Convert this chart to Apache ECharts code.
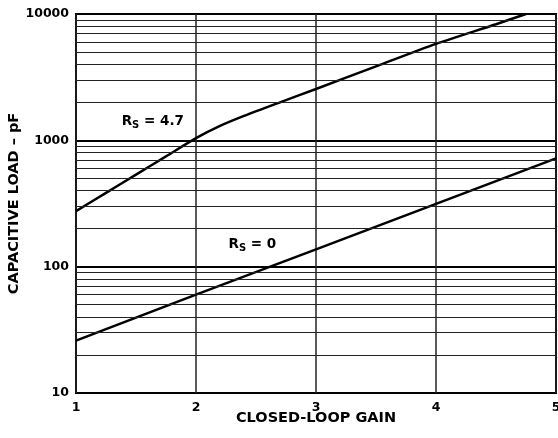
<!DOCTYPE html>
<html>
<head>
<meta charset="utf-8">
<script src="https://cdn.jsdelivr.net/npm/echarts@6/dist/echarts.min.js"></script>
<style>
  html, body { margin: 0; padding: 0; background: #fff; }
  #chart { width: 558px; height: 438px; }
</style>
</head>
<body>
<div id="chart"></div>
<script>
// 闭环增益 vs 容性负载
const gainTicks = [1, 2, 3, 4, 5];
const loadDecades = [10, 100, 1000, 10000];
// 次级网格线 (20..90, 200..900, 2000..9000)
const minorLoads = [20, 30, 40, 50, 60, 70, 80, 90,
  200, 300, 400, 500, 600, 700, 800, 900,
  2000, 3000, 4000, 5000, 6000, 7000, 8000, 9000];

const rs47Gain = [1, 1.25, 1.5, 1.75, 2, 2.2, 2.4, 2.7, 3, 3.5, 4, 4.5, 4.75];
const rs47Load = [275, 384, 535, 746, 1040, 1300, 1560, 2000, 2550, 3850, 5800, 8300, 10000];

const rs0Gain = [1, 2, 3, 4, 5];
const rs0Load = [26, 60, 137, 314, 720];

const FONT = "DejaVu Sans, sans-serif";

const chart = echarts.init(document.getElementById("chart"));

const labelRich = {
  r: { fontSize: 13.5, fontWeight: "bold", fontFamily: FONT, color: "#000" },
  s: { fontSize: 10, fontWeight: "bold", fontFamily: FONT, color: "#000", padding: [7, 0, 0, 0] },
};

const options = {
  animation: false,
  grid: {
    left: 76,
    right: 2,
    top: 14,
    bottom: 45,
    outerBoundsMode: "none",
    containLabel: false,
    show: true,
    borderColor: "#000",
    borderWidth: 2,
  },
  xAxis: {
    type: "value",
    min: gainTicks[0],
    max: gainTicks[gainTicks.length - 1],
    interval: 1,
    name: "CLOSED-LOOP GAIN",
    nameLocation: "middle",
    nameGap: 18,
    nameMoveOverlap: false,
    nameTextStyle: { fontFamily: FONT, fontWeight: "bold", fontSize: 14.5, color: "#000" },
    axisLine: { show: false },
    axisTick: { show: false },
    axisLabel: { fontFamily: FONT, fontWeight: "bold", fontSize: 12.5, color: "#000", margin: 8 },
    splitLine: { show: true, lineStyle: { color: "#222", width: 1.5 } },
  },
  yAxis: {
    type: "log",
    logBase: 10,
    min: loadDecades[0],
    max: loadDecades[loadDecades.length - 1],
    name: "CAPACITIVE LOAD – pF",
    nameLocation: "middle",
    nameGap: 54,
    nameMoveOverlap: false,
    nameTextStyle: { fontFamily: FONT, fontWeight: "bold", fontSize: 14.5, color: "#000" },
    axisLine: { show: false },
    axisTick: { show: false },
    axisLabel: {
      fontFamily: FONT, fontWeight: "bold", fontSize: 12.5, color: "#000", margin: 7,
      formatter: (v) => String(Math.round(v)),
    },
    splitLine: { show: true, lineStyle: { color: "#000", width: 2 } },
  },
  series: [
    {
      name: "grid",
      type: "line",
      data: [],
      silent: true,
      markLine: {
        silent: true,
        symbol: "none",
        animation: false,
        label: { show: false },
        lineStyle: { color: "#222", width: 1, type: "solid" },
        data: minorLoads.map((v) => ({ yAxis: v })),
      },
    },
    {
      name: "RS = 4.7",
      type: "line",
      smooth: 0.25,
      symbol: "none",
      lineStyle: { color: "#000", width: 2.5 },
      data: rs47Gain.map((g, i) => [g, rs47Load[i]]),
      markPoint: {
        symbol: "rect",
        symbolSize: 1,
        itemStyle: { color: "rgba(0,0,0,0)" },
        label: {
          show: true,
          position: "inside",
          formatter: "{r|R}{s|S}{r| = 4.7}",
          rich: labelRich,
        },
        data: [{ coord: [1.64, 1400] }],
      },
    },
    {
      name: "RS = 0",
      type: "line",
      symbol: "none",
      lineStyle: { color: "#000", width: 2.5 },
      data: rs0Gain.map((g, i) => [g, rs0Load[i]]),
      markPoint: {
        symbol: "rect",
        symbolSize: 1,
        itemStyle: { color: "rgba(0,0,0,0)" },
        label: {
          show: true,
          position: "inside",
          formatter: "{r|R}{s|S}{r| = 0}",
          rich: labelRich,
        },
        data: [{ coord: [2.47, 149] }],
      },
    },
  ],
};

chart.setOption(options);
</script>
</body>
</html>
